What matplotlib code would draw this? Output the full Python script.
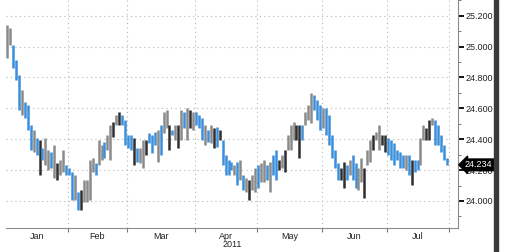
import numpy as np
import pandas as pd
import matplotlib
matplotlib.use('Agg')
from matplotlib import pyplot as plt
from matplotlib import transforms
from matplotlib.patches import Rectangle

plt.rcParams['font.family'] = ['Liberation Sans', 'DejaVu Sans']

# daily bars, 3 Jan - 29 Jul 2011
highs = [25.140, 25.121, 25.010, 24.913, 24.816, 24.719, 24.641, 24.622, 24.492, 24.460,
         24.408, 24.395, 24.343, 24.408, 24.330, 24.317, 24.363, 24.246, 24.265, 24.330,
         24.233, 24.214, 24.188, 24.168, 24.058, 24.071, 24.136, 24.136, 24.265, 24.278,
         24.246, 24.395, 24.363, 24.382, 24.427, 24.492, 24.512, 24.557, 24.576, 24.557,
         24.525, 24.427, 24.427, 24.408, 24.343, 24.343, 24.395, 24.395, 24.440, 24.427,
         24.447, 24.460, 24.492, 24.576, 24.589, 24.492, 24.460, 24.492, 24.492, 24.589,
         24.576, 24.602, 24.589, 24.576, 24.576, 24.557, 24.537, 24.492, 24.460, 24.492,
         24.473, 24.479, 24.460, 24.395, 24.298, 24.265, 24.252, 24.233, 24.252, 24.265,
         24.168, 24.149, 24.136, 24.168, 24.214, 24.233, 24.246, 24.265, 24.233, 24.252,
         24.298, 24.330, 24.265, 24.298, 24.330, 24.427, 24.492, 24.512, 24.492, 24.492,
         24.492, 24.576, 24.622, 24.699, 24.687, 24.654, 24.622, 24.602, 24.602, 24.557,
         24.427, 24.330, 24.246, 24.214, 24.252, 24.233, 24.265, 24.298, 24.246, 24.214,
         24.278, 24.214, 24.330, 24.395, 24.427, 24.447, 24.492, 24.427, 24.427, 24.408,
         24.395, 24.376, 24.330, 24.317, 24.298, 24.298, 24.298, 24.265, 24.265, 24.265,
         24.408, 24.492, 24.473, 24.525, 24.537, 24.525, 24.492, 24.427, 24.363, 24.278]
lows = [24.926, 25.010, 24.861, 24.784, 24.589, 24.557, 24.537, 24.460, 24.330, 24.317,
        24.298, 24.168, 24.265, 24.233, 24.201, 24.214, 24.149, 24.136, 24.168, 24.188,
        24.168, 24.168, 24.006, 24.006, 23.941, 23.941, 23.993, 23.993, 24.006, 24.188,
        24.168, 24.233, 24.265, 24.278, 24.330, 24.265, 24.414, 24.492, 24.492, 24.492,
        24.363, 24.343, 24.330, 24.233, 24.252, 24.246, 24.214, 24.298, 24.376, 24.311,
        24.363, 24.252, 24.298, 24.440, 24.473, 24.330, 24.427, 24.395, 24.343, 24.395,
        24.473, 24.395, 24.473, 24.460, 24.492, 24.473, 24.395, 24.363, 24.382, 24.376,
        24.343, 24.350, 24.395, 24.233, 24.168, 24.168, 24.201, 24.168, 24.103, 24.136,
        24.071, 24.058, 24.006, 24.071, 24.058, 24.084, 24.123, 24.123, 24.136, 24.058,
        24.168, 24.136, 24.201, 24.214, 24.188, 24.330, 24.330, 24.395, 24.395, 24.278,
        24.395, 24.492, 24.525, 24.505, 24.589, 24.525, 24.460, 24.473, 24.427, 24.363,
        24.278, 24.214, 24.136, 24.136, 24.084, 24.136, 24.168, 24.136, 24.084, 24.071,
        24.123, 24.019, 24.233, 24.252, 24.330, 24.395, 24.330, 24.363, 24.317, 24.298,
        24.265, 24.233, 24.265, 24.214, 24.214, 24.201, 24.168, 24.103, 24.188, 24.201,
        24.233, 24.395, 24.395, 24.395, 24.492, 24.363, 24.363, 24.317, 24.265, 24.234]
# u = up (grey), k = up (dark), d = down (blue)
moves = ("uudddudddu" "dkduudukuu" "dddudkuuuu" "duuduukukd" "dddkduukdd"
         "duduukduku" "dukudddudu" "kdkddddudu" "dukuuduudu" "ddkukuuukk"
         "duuudddudd" "dddkkduddu" "ukuukuukkd" "dddddudkdd" "uukkuddddd")
last_price = 24.234
days = pd.bdate_range('2011-01-03', '2011-07-29')

shade = {'u': '#8a8a8a', 'k': '#2e2e2e', 'd': '#3b8edb'}
x = np.arange(len(days))
colors = [shade[m] for m in moves]

fig = plt.figure(figsize=(5.05, 2.52), dpi=100)
ax = fig.add_axes([6 / 505, 1 - 228 / 252, 452 / 505, 228 / 252])

ax.vlines(x, lows, highs, colors=colors, linewidth=1.8, zorder=3)

# month boundaries
month_start = np.r_[np.flatnonzero(days.month[1:] != days.month[:-1]) + 1, len(days)] - 0.4
left, right = -0.35, 152.7
edges = np.r_[left, month_start]
centers = (edges[:-1] + edges[1:]) / 2
ax.set_xlim(left, right)
ax.set_ylim(23.825, 25.302)

grid_kw = dict(color='#b4b4b4', linestyle=(0, (1, 3)), linewidth=0.8, zorder=1)
for xb in month_start:
    ax.axvline(xb, **grid_kw)
yt = np.arange(24.0, 25.21, 0.2)
for yv in yt:
    ax.axhline(yv, xmax=(month_start[-1] - left) / (right - left), **grid_kw)

ax.set_xticks(month_start)
ax.set_xticklabels([])
ax.set_xticks(centers, minor=True)
ax.set_xticklabels(['Jan', 'Feb', 'Mar', 'Apr', 'May', 'Jun', 'Jul'], minor=True)
ax.tick_params(axis='x', which='major', length=3, width=0.8, color='#777777')
ax.tick_params(axis='x', which='minor', length=0, pad=3, labelsize=6.5, labelcolor='#222222')

ax.yaxis.tick_right()
ax.set_yticks(yt)
ax.set_yticklabels([f'{v:.3f}' for v in yt])
ax.set_yticks(np.arange(23.9, 25.31, 0.1), minor=True)
ax.tick_params(axis='y', which='major', length=4, width=1.3, color='black', pad=1.5,
               labelsize=6.5, labelcolor='#222222')
ax.tick_params(axis='y', which='minor', length=2, width=0.7, color='#777777')

for s in ['left', 'top']:
    ax.spines[s].set_visible(False)
for s in ['right', 'bottom']:
    ax.spines[s].set_color('#8c8c8c')
    ax.spines[s].set_linewidth(0.8)

fig.text(ax.get_position().x0 + ax.get_position().width / 2, 3 / 252, '2011',
         ha='center', va='bottom', fontsize=6.5, color='#222222')

# last price tag, drawn over the 24.200 label as in the terminal chart
trans = transforms.blended_transform_factory(ax.transAxes, ax.transData)
ax.text(1.0, last_price, f'{last_price:.3f}', transform=trans + transforms.ScaledTranslation(7 / 100, 0, fig.dpi_scale_trans),
        ha='left', va='center', fontsize=6.5, color='white', zorder=5, clip_on=False,
        bbox=dict(boxstyle='larrow,pad=0.15', fc='black', ec='black'))

fig.add_artist(Rectangle((494 / 505, 0), 4 / 505, 1, transform=fig.transFigure,
                         color='#3a3a3a'))

fig.savefig('out.png', dpi=100)
